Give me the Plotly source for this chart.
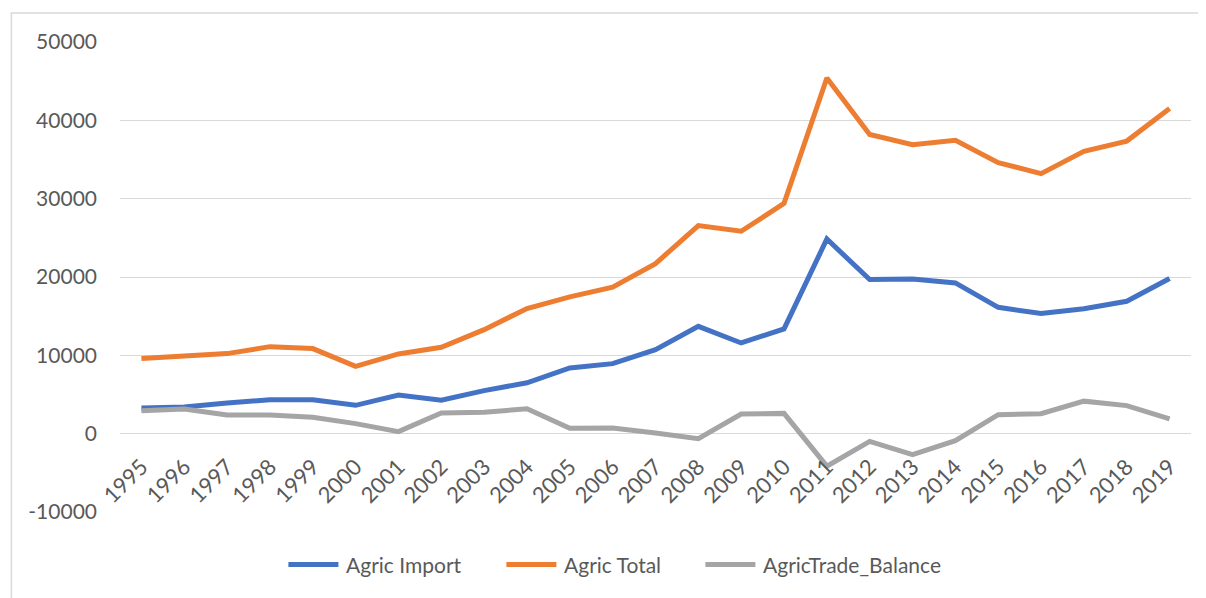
import plotly.graph_objects as go

years = [str(y) for y in range(1995, 2020)]
agric_import = [3280, 3400, 3920, 4340, 4340, 3620, 4940, 4260, 5500, 6500,
                8390, 8940, 10730, 13700, 11580, 13370, 24850, 19670, 19750, 19240,
                16130, 15330, 15960, 16900, 19800]
agric_total = [9580, 9870, 10220, 11110, 10860, 8600, 10180, 11020, 13280, 15980,
               17460, 18690, 21710, 26560, 25840, 29400, 45400, 38190, 36900, 37450,
               34600, 33200, 36050, 37350, 41500]
trade_balance = [2940, 3150, 2380, 2380, 2090, 1280, 260, 2640, 2720, 3180,
                 680, 720, 80, -640, 2510, 2590, -4150, -980, -2680, -900,
                 2430, 2550, 4150, 3580, 1880]

series_names = ["Agric Import", "Agric Total", "AgricTrade_Balance"]
series_values = [agric_import, agric_total, trade_balance]
colors = ["#4472C4", "#ED7D31", "#A5A5A5"]

y_ticks = [-10000, 0, 10000, 20000, 30000, 40000, 50000]

fig = go.Figure()
for name, vals, col in zip(series_names, series_values, colors):
    fig.add_trace(go.Scatter(x=years, y=vals, name=name, mode="lines",
                             line=dict(color=col, width=5), showlegend=False))

# page offset of the figure (body margin)
OX, OY = 8, 8
W, H = 1198, 590
# plot area in page pixels: x 119.6..1190.6, y 42..512.5
L, T = 119.6 - OX, 42 - OY
R, B = W - (1190.6 - OX), H - (512.5 - OY)
pw, ph = W - L - R, H - T - B

def px_x(p):
    return (p - OX - L) / pw

def px_y(p):
    return (H - B - (p - OY)) / ph

font_family = "Lato, 'Open Sans', sans-serif"
txt_col = "#595959"
fsize = 21

legend_starts = [286, 504, 703]
legend_y = 565
shapes = [dict(type="rect", xref="paper", yref="paper",
               x0=px_x(11), x1=px_x(1220), y0=px_y(13), y1=px_y(610),
               line=dict(color="#D9D9D9", width=1.5), fillcolor="rgba(0,0,0,0)",
               layer="below")]
annotations = []
for name, col, xs in zip(series_names, colors, legend_starts):
    shapes.append(dict(type="line", xref="paper", yref="paper",
                       x0=px_x(xs + 2), x1=px_x(xs + 52), y0=px_y(legend_y), y1=px_y(legend_y),
                       line=dict(color=col, width=5)))
    annotations.append(dict(text=name, xref="paper", yref="paper",
                            x=px_x(xs + 58), y=px_y(legend_y), xanchor="left", yanchor="middle",
                            showarrow=False, font=dict(size=fsize, color=txt_col)))

fig.update_layout(
    width=W, height=H,
    margin=dict(l=L, r=R, t=T, b=B, pad=0),
    paper_bgcolor="white", plot_bgcolor="white",
    font=dict(family=font_family, size=fsize, color=txt_col),
    showlegend=False,
    xaxis=dict(type="category", anchor="free", position=1/6, automargin=False,
               tickangle=-45, showgrid=False, showline=False, zeroline=False,
               ticks="", ticklabelstandoff=15, tickfont=dict(size=22, color=txt_col),
               range=[-0.5, len(years) - 0.5]),
    yaxis=dict(range=[-10000, 50000], tickvals=y_ticks, automargin=False,
               ticktext=[str(v) for v in y_ticks],
               showgrid=True, gridcolor="#D9D9D9", gridwidth=1.3,
               zeroline=False, showline=False, ticks="",
               ticklabelstandoff=22,
               tickfont=dict(size=fsize, color=txt_col)),
    shapes=shapes,
    annotations=annotations,
)

fig.write_html("out.html")
